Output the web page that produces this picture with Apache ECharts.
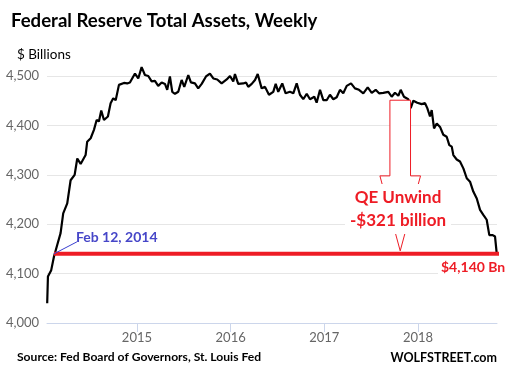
<!DOCTYPE html>
<html>
<head>
<meta charset="utf-8">
<script src="https://cdn.jsdelivr.net/npm/echarts@6/dist/echarts.min.js"></script>
<style>html,body{margin:0;padding:0;background:#fff}#c{width:513px;height:372px}</style>
</head>
<body>
<div id="c"></div>
<script>
// Dates as decimal years
const years = [
2014.042,2014.050,2014.085,2014.114,2014.149,2014.185,2014.213,2014.256,2014.292,2014.335,
2014.363,2014.399,2014.452,2014.469,2014.506,2014.541,2014.570,2014.594,2014.619,2014.648,
2014.690,2014.719,2014.747,2014.773,2014.808,2014.861,2014.896,2014.925,2014.979,2015.014,
2015.050,2015.085,2015.121,2015.157,2015.192,2015.227,2015.264,2015.299,2015.323,2015.352,
2015.377,2015.406,2015.441,2015.477,2015.505,2015.548,2015.576,2015.619,2015.654,2015.691,
2015.737,2015.779,2015.815,2015.857,2015.904,2015.958,2015.993,2016.028,2016.046,2016.081,
2016.135,2016.164,2016.188,2016.225,2016.260,2016.289,2016.331,2016.367,2016.409,2016.455,
2016.481,2016.508,2016.551,2016.587,2016.633,2016.669,2016.705,2016.740,2016.775,2016.812,
2016.847,2016.893,2016.918,2016.954,2016.989,2017.025,2017.060,2017.096,2017.132,2017.167,
2017.202,2017.239,2017.285,2017.327,2017.370,2017.416,2017.463,2017.506,2017.548,2017.584,
2017.629,2017.648,2017.683,2017.719,2017.754,2017.790,2017.815,2017.850,2017.896,2017.922,
2017.950,2017.992,2018.039,2018.075,2018.099,2018.128,2018.146,2018.171,2018.200,2018.235,
2018.270,2018.306,2018.334,2018.360,2018.377,2018.413,2018.448,2018.484,2018.520,2018.555,
2018.590,2018.627,2018.662,2018.697,2018.733,2018.761,2018.797,2018.822,2018.840
];
// Total assets, $ billions
const assets = [
4040,4094,4107,4134,4158,4182,4222,4242,4289,4300,
4333,4322,4340,4367,4374,4391,4411,4408,4430,4411,
4418,4445,4455,4451,4482,4486,4485,4487,4505,4495,
4518,4502,4500,4489,4490,4480,4487,4484,4472,4499,
4468,4464,4468,4492,4478,4502,4487,4485,4475,4484,
4499,4505,4495,4493,4485,4493,4500,4489,4504,4484,
4485,4487,4478,4484,4492,4504,4475,4478,4462,4468,
4484,4468,4485,4465,4468,4465,4485,4462,4453,4464,
4453,4458,4446,4472,4451,4451,4462,4453,4457,4472,
4465,4480,4485,4475,4472,4465,4477,4466,4472,4465,
4466,4462,4468,4458,4466,4460,4472,4458,4453,4435,
4450,4446,4443,4445,4435,4418,4431,4394,4404,4397,
4381,4377,4360,4357,4340,4331,4327,4313,4293,4286,
4266,4252,4229,4219,4209,4178,4178,4175,4141
];
const yTicks = [4000, 4100, 4200, 4300, 4400, 4500];
const xTickYears = [2015, 2016, 2017, 2018];
const refStart = 2014.114;   // Feb 12, 2014
const refEnd = 2018.907;
const refLevel = 4140;
const arrowYear = 2017.81;
const arrowFrom = 4451;
const arrowTo = 4146;

const RED = '#ee1c25';
const FONT = 'Lato';

const chart = echarts.init(document.getElementById('c'), null, {renderer: 'canvas'});
const fmt = v => String(v).replace(/\B(?=(\d{3})+(?!\d))/g, ',');

chart.setOption({
  animation: false,
  backgroundColor: '#fff',
  grid: {left: 47, right: 16, top: 76, bottom: 49},
  xAxis: {
    type: 'value', min: 2014.04, max: 2018.843,
    splitLine: {show: false},
    axisLine: {lineStyle: {color: '#ccd6eb', width: 1}},
    axisTick: {show: true, length: 9, lineStyle: {color: '#ccd6eb'}, customValues: xTickYears},
    axisLabel: {customValues: xTickYears, color: '#666', fontFamily: FONT, fontSize: 13, margin: 8,
      formatter: v => String(Math.round(v))}
  },
  yAxis: {
    type: 'value', min: yTicks[0], max: yTicks[yTicks.length - 1], interval: 100,
    axisLine: {show: false}, axisTick: {show: false},
    splitLine: {lineStyle: {color: '#e6e6e6', width: 1}},
    axisLabel: {color: '#666', fontFamily: FONT, fontSize: 13, margin: 8, formatter: fmt}
  },
  series: [
    {
      type: 'line', data: years.map((y, i) => [y, assets[i]]), showSymbol: false, symbol: 'none',
      clip: false, lineStyle: {color: '#000', width: 2.2}, z: 2
    },
    {
      type: 'custom', clip: false, z: 3,
      data: [[arrowYear, arrowFrom, arrowTo]],
      encode: {x: 0, y: [1, 2]},
      renderItem: function (params, api) {
        const top = api.coord([api.value(0), api.value(1)]);
        const tip = api.coord([api.value(0), api.value(2)]);
        const x = top[0], sw = 10.3, hw = 20.3, hy = tip[1] - 75;
        return {
          type: 'polygon',
          shape: {points: [[x - sw, top[1]], [x + sw, top[1]], [x + sw, hy], [x + hw, hy], [x, tip[1]], [x - hw, hy], [x - sw, hy]]},
          style: {fill: '#fff', stroke: RED, lineWidth: 1}
        };
      }
    },
    {
      type: 'line', data: [[refStart, refLevel], [refEnd, refLevel]], symbol: 'none', clip: false,
      lineStyle: {color: RED, width: 4}, z: 4
    }
  ]
});

const p = chart.convertToPixel({gridIndex: 0}, [refStart, refLevel]);

chart.setOption({
  graphic: [
    {type: 'text', left: 11, top: 11, z: 10,
      style: {text: 'Federal Reserve Total Assets, Weekly', fill: '#000', font: 'bold 18.6px ' + FONT}},
    {type: 'text', left: 17, top: 48, z: 10,
      style: {text: '$ Billions', fill: '#000', font: '13.5px ' + FONT}},
    {type: 'text', left: 17, top: 351, z: 10,
      style: {text: 'Source: Fed Board of Governors, St. Louis Fed', fill: '#000', font: 'bold 12.1px ' + FONT}},
    {type: 'text', right: 16, top: 351, z: 10,
      style: {text: 'WOLFSTREET.com', fill: '#000', font: 'bold 12.5px ' + FONT}},
    {type: 'line', z: 10, shape: {x1: p[0], y1: p[1], x2: p[0] + 23, y2: p[1] - 12},
      style: {stroke: '#3a3fd0', lineWidth: 1}},
    {type: 'text', left: 76, top: 230, z: 10,
      style: {text: 'Feb 12, 2014', fill: '#4646c8', font: 'bold 14px ' + FONT}},
    {type: 'text', x: 398, y: 209, z: 10,
      style: {text: 'QE Unwind\n-$321 billion', fill: RED, font: 'bold 17px ' + FONT,
        align: 'center', verticalAlign: 'middle', lineHeight: 23,
        backgroundColor: '#fff', padding: [2, 5, 2, 5]}},
    {type: 'text', left: 438, top: 260, z: 10,
      style: {text: '$4,140 Bn', fill: RED, font: 'bold 14px ' + FONT,
        backgroundColor: '#fff', padding: [0, 2, 0, 3]}}
  ]
});
</script>
</body>
</html>
